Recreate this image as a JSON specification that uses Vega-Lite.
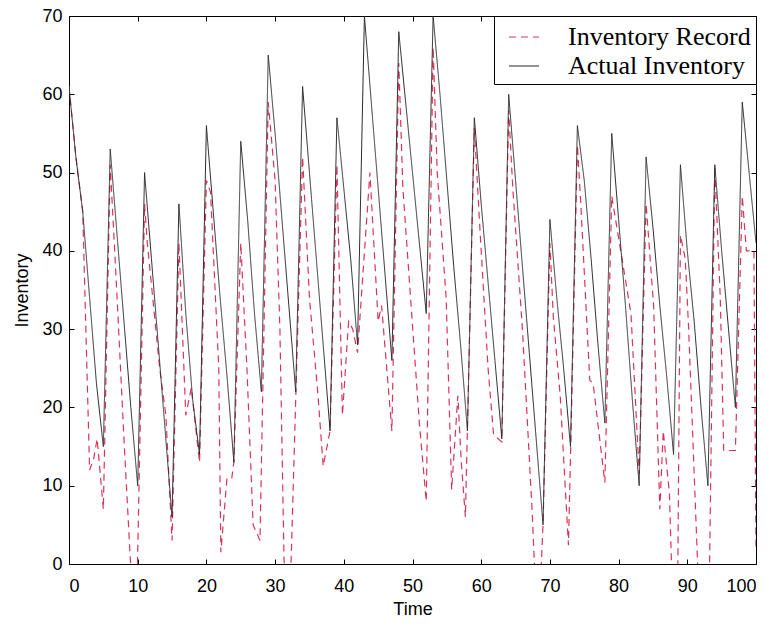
{
  "$schema": "https://vega.github.io/schema/vega-lite/v6.json",
  "width": 687,
  "height": 548,
  "autosize": {"type": "none"},
  "padding": {"left": 69, "top": 16, "right": 19, "bottom": 62},
  "background": "white",
  "config": {
    "view": {"stroke": "black", "strokeWidth": 1},
    "axis": {
      "grid": false,
      "zindex": 1,
      "domain": false,
      "offset": -5,
      "tickSize": 5,
      "tickWidth": 1,
      "tickColor": "black",
      "labelFont": "Liberation Sans",
      "labelFontSize": 18,
      "labelColor": "black",
      "titleFont": "Liberation Sans",
      "titleFontSize": 18,
      "titleFontWeight": "normal",
      "titleColor": "black"
    }
  },
  "datasets": {
    "record": [
      {"t":0,"v":61},{"t":1,"v":52},{"t":2,"v":45},{"t":3,"v":12},{"t":3.6,"v":13.5},{"t":4.1,"v":16},{"t":5,"v":7},{"t":6,"v":51},{"t":7,"v":34},{"t":8,"v":16},{"t":8.9,"v":1},{"t":9.2,"v":-3},{"t":9.9,"v":-3},{"t":11,"v":46},{"t":11.4,"v":41},{"t":13.2,"v":25},{"t":14.1,"v":19},{"t":15,"v":3},{"t":16,"v":41},{"t":17,"v":19},{"t":17.8,"v":22.5},{"t":19,"v":13},{"t":20,"v":49},{"t":20.6,"v":47.5},{"t":21.8,"v":25},{"t":22.1,"v":1.5},{"t":23,"v":11},{"t":23.7,"v":11},{"t":24,"v":13},{"t":25,"v":41},{"t":25.9,"v":25},{"t":26.8,"v":5},{"t":27.8,"v":3},{"t":29,"v":59},{"t":30,"v":49},{"t":30.7,"v":30},{"t":31.3,"v":0.6},{"t":31.6,"v":-3},{"t":32.2,"v":-3},{"t":32.4,"v":2.4},{"t":34,"v":52},{"t":35,"v":34},{"t":36.2,"v":22},{"t":37,"v":12.5},{"t":38,"v":17},{"t":39,"v":51},{"t":39.8,"v":19},{"t":40.7,"v":31},{"t":41.3,"v":30},{"t":42,"v":27},{"t":43.8,"v":50},{"t":45,"v":31},{"t":45.5,"v":33},{"t":47,"v":17},{"t":48,"v":64},{"t":48.6,"v":48},{"t":51,"v":18},{"t":52,"v":8},{"t":53,"v":66},{"t":53.6,"v":50},{"t":54.9,"v":34},{"t":55.7,"v":9.5},{"t":56.6,"v":21.5},{"t":57.1,"v":13},{"t":57.7,"v":6},{"t":59,"v":55.7},{"t":59.8,"v":43},{"t":61,"v":25},{"t":61.8,"v":16.5},{"t":63,"v":15.6},{"t":64,"v":58},{"t":64.6,"v":48},{"t":66,"v":30},{"t":67.4,"v":7},{"t":67.9,"v":-3},{"t":68.6,"v":-3},{"t":69,"v":5},{"t":70,"v":41},{"t":70.5,"v":31.5},{"t":71.5,"v":21.5},{"t":72.7,"v":2.4},{"t":73,"v":13.8},{"t":74,"v":53.5},{"t":74.5,"v":46},{"t":75.8,"v":23.5},{"t":76.3,"v":23},{"t":78,"v":10.4},{"t":79,"v":47},{"t":81.8,"v":32},{"t":83,"v":11.5},{"t":84,"v":46},{"t":85.1,"v":33},{"t":86,"v":7},{"t":86.5,"v":17},{"t":87.4,"v":9},{"t":87.8,"v":-3},{"t":88.6,"v":-3},{"t":89,"v":42},{"t":89.7,"v":39},{"t":90.2,"v":30},{"t":91.5,"v":0},{"t":91.8,"v":-3},{"t":93.2,"v":-3},{"t":94,"v":50.7},{"t":94.8,"v":34},{"t":95.3,"v":14.5},{"t":97,"v":14.5},{"t":98,"v":47},{"t":98.6,"v":40},{"t":99.7,"v":40},{"t":100,"v":2}
    ],
    "actual": [
      {"t":0,"v":61},{"t":1,"v":52},{"t":2,"v":45},{"t":3,"v":34},{"t":4,"v":23},{"t":5,"v":15},{"t":6,"v":53},{"t":7,"v":42},{"t":8,"v":31},{"t":9,"v":20},{"t":10,"v":10},{"t":11,"v":50},{"t":12,"v":39},{"t":13,"v":28},{"t":14,"v":17},{"t":15,"v":6},{"t":16,"v":46},{"t":17,"v":32},{"t":18,"v":21},{"t":19,"v":14},{"t":20,"v":56},{"t":21,"v":45},{"t":22,"v":34},{"t":23,"v":24},{"t":24,"v":13},{"t":25,"v":54},{"t":26,"v":44},{"t":27,"v":32},{"t":28,"v":22},{"t":29,"v":65},{"t":30,"v":55},{"t":31,"v":44},{"t":32,"v":33},{"t":33,"v":22},{"t":34,"v":61},{"t":35,"v":50},{"t":36,"v":39},{"t":37,"v":28},{"t":38,"v":17},{"t":39,"v":57},{"t":40,"v":48},{"t":41,"v":39},{"t":42,"v":28},{"t":43,"v":70},{"t":44,"v":59},{"t":45,"v":48},{"t":46,"v":37},{"t":47,"v":26},{"t":48,"v":68},{"t":49,"v":59},{"t":50,"v":50},{"t":51,"v":41},{"t":52,"v":32},{"t":53,"v":70},{"t":54,"v":60},{"t":55,"v":49},{"t":56,"v":38},{"t":57,"v":28},{"t":58,"v":17},{"t":59,"v":57},{"t":60,"v":46},{"t":61,"v":36},{"t":62,"v":26},{"t":63,"v":16},{"t":64,"v":60},{"t":65,"v":49},{"t":66,"v":38},{"t":67,"v":27},{"t":68,"v":16},{"t":69,"v":5},{"t":70,"v":44},{"t":71,"v":34},{"t":72,"v":25},{"t":73,"v":15},{"t":74,"v":56},{"t":75,"v":49},{"t":76,"v":39},{"t":77,"v":28},{"t":78,"v":18},{"t":79,"v":55},{"t":80,"v":44},{"t":81,"v":33},{"t":82,"v":21},{"t":83,"v":10},{"t":84,"v":52},{"t":85,"v":43},{"t":86,"v":33},{"t":87,"v":24},{"t":88,"v":14},{"t":89,"v":51},{"t":90,"v":40},{"t":91,"v":31},{"t":92,"v":20},{"t":93,"v":10},{"t":94,"v":51},{"t":95,"v":40},{"t":96,"v":30},{"t":97,"v":20},{"t":98,"v":59},{"t":99,"v":50},{"t":100,"v":41}
    ]
  },
  "layer": [
    {
      "data": {"name": "record"},
      "mark": {"type": "line", "strokeWidth": 1.2, "clip": true},
      "encoding": {
        "x": {"field": "t", "type": "quantitative", "scale": {"domain": [0, 100], "nice": false},
              "axis": {"title": "Time", "values": [0,10,20,30,40,50,60,70,80,90,100], "labelPadding": 13, "titlePadding": 5}},
        "y": {"field": "v", "type": "quantitative", "scale": {"domain": [0, 70], "nice": false},
              "axis": {"title": "Inventory", "values": [0,10,20,30,40,50,60,70], "labelPadding": 7, "titlePadding": 10}},
        "color": {"datum": "Inventory Record", "type": "nominal",
                  "scale": {"domain": ["Inventory Record", "Actual Inventory"], "range": ["#d8345a", "#2a2a2a"]},
                  "legend": {"title": null, "orient": "top-right", "offset": 0, "strokeColor": "black", "fillColor": "white",
                             "padding": 5, "labelFont": "Liberation Serif", "labelFontSize": 26, "labelColor": "black",
                             "symbolType": "stroke", "symbolSize": 900, "symbolStrokeWidth": 1.2, "symbolOffset": 9, "rowPadding": 0, "labelOffset": 28, "labelLimit": 400}},
        "strokeDash": {"datum": "Inventory Record", "type": "nominal",
                       "scale": {"domain": ["Inventory Record", "Actual Inventory"], "range": [[7, 5], [1, 0]]},
                       "legend": {"title": null, "orient": "top-right", "offset": 0, "strokeColor": "black", "fillColor": "white",
                             "padding": 5, "labelFont": "Liberation Serif", "labelFontSize": 26, "labelColor": "black",
                             "symbolType": "stroke", "symbolSize": 900, "symbolStrokeWidth": 1.2, "symbolOffset": 9, "rowPadding": 0, "labelOffset": 28, "labelLimit": 400}}
      }
    },
    {
      "data": {"name": "actual"},
      "mark": {"type": "line", "strokeWidth": 1, "clip": true},
      "encoding": {
        "x": {"field": "t", "type": "quantitative", "axis": null},
        "y": {"field": "v", "type": "quantitative", "axis": null},
        "color": {"datum": "Actual Inventory", "type": "nominal"},
        "strokeDash": {"datum": "Actual Inventory", "type": "nominal"}
      }
    },
    {
      "data": {"name": "actual"},
      "mark": {"type": "point", "opacity": 0},
      "encoding": {
        "x": {"field": "t", "type": "quantitative", "axis": {"orient": "top", "title": null, "labels": false, "values": [0,10,20,30,40,50,60,70,80,90,100]}},
        "y": {"field": "v", "type": "quantitative", "axis": {"orient": "right", "title": null, "labels": false, "values": [0,10,20,30,40,50,60,70]}}
      }
    }
  ],
  "resolve": {"axis": {"x": "independent", "y": "independent"}}
}
